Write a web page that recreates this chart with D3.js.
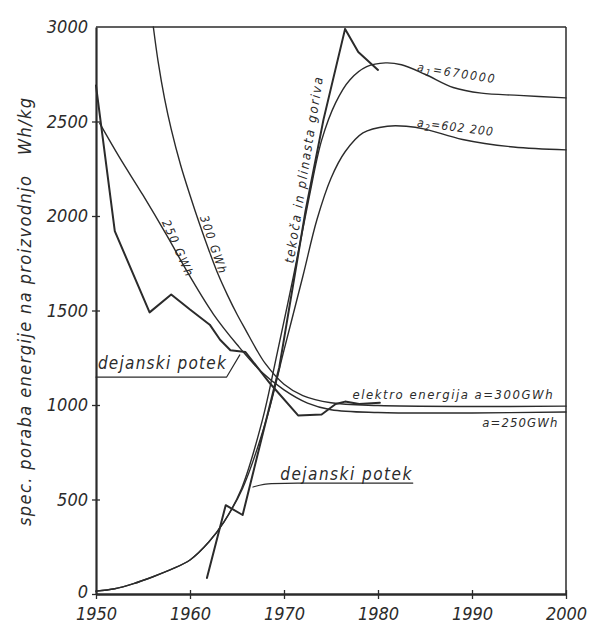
<!DOCTYPE html>
<meta charset="utf-8">

<body style="margin:0;background:#fff">
  <style>
    svg text {
      font-family: "DejaVu Sans Condensed", "DejaVu Sans", sans-serif;
      font-stretch: condensed;
      font-style: italic;
      fill: #2b2b2b;
    }
  </style>
  <div id="chart"></div>
  <script src="https://cdn.jsdelivr.net/npm/d3@7"></script>
  <script>
    // tick labels
    var xTicks = [1950, 1960, 1970, 1980, 1990, 2000];
    var yTicks = [0, 500, 1000, 1500, 2000, 2500, 3000];

    // electricity, projected curves [year, Wh/kg]
    var elec300 = [[1956.1, 3000], [1956.6, 2820], [1957.3, 2620], [1958, 2460], [1959, 2270],
      [1960, 2110], [1961, 1960], [1962, 1820], [1963, 1690], [1964, 1580], [1965, 1480],
      [1966, 1390], [1967, 1300], [1968, 1220], [1970, 1110], [1972, 1050], [1975, 1012],
      [1980, 997], [1990, 992], [2000, 994]];
    var elec250 = [[1950.4, 2490], [1952.5, 2310], [1955, 2110], [1957.5, 1900], [1960, 1680],
      [1962.5, 1480], [1965, 1320], [1967.5, 1180], [1970, 1080], [1972.5, 1010], [1975, 975],
      [1980, 960], [1990, 958], [2000, 963]];
    // electricity, actual course
    var elecActual = [[1950, 2690], [1952, 1920], [1955.7, 1490], [1958, 1585], [1960, 1505],
      [1962.1, 1425], [1963.2, 1345], [1964.3, 1290], [1965.9, 1280], [1968.5, 1115],
      [1971.5, 945], [1974, 950], [1975.5, 1005], [1976.5, 1018], [1978, 1005], [1980.2, 1012]];

    // liquid and gaseous fuels, projected curves
    var fuelA1 = [[1950, 15], [1952, 28], [1954, 55], [1956, 90], [1958, 130], [1960, 180],
      [1962, 275], [1963.6, 380], [1965.5, 560], [1967.7, 920], [1969.3, 1280], [1971, 1680],
      [1972.6, 2080], [1974, 2400], [1975.5, 2600], [1977, 2720], [1978.8, 2790],
      [1980.8, 2810], [1982.5, 2800], [1985, 2750], [1988, 2680], [1991, 2650], [1995, 2638],
      [2000, 2625]];
    var fuelA2 = [[1950, 15], [1952, 28], [1954, 55], [1956, 90], [1958, 130], [1960, 180],
      [1962, 275], [1963.6, 380], [1965.6, 560], [1968.1, 920], [1970, 1290], [1972, 1680],
      [1973.5, 1980], [1975, 2200], [1976.5, 2340], [1978.4, 2440], [1981, 2475],
      [1983, 2475], [1985, 2460], [1989, 2405], [1994.4, 2365], [2000, 2350]];
    // fuels, actual course
    var fuelActual = [[1961.8, 85], [1963.8, 470], [1965.6, 418], [1969.5, 1200], [1972.3, 2030],
      [1974.2, 2510], [1976.5, 2990], [1977.9, 2868], [1980, 2773]];

    // leader lines of the "dejanski potek" notes
    var leaderTop = [[1950, 1148], [1963.9, 1148], [1965.3, 1265]];
    var leaderLow = [[1966.7, 566], [1967.8, 582], [1969.3, 587], [1983.7, 587]];

    var margin = {top: 27, right: 23, bottom: 30, left: 96},
      width = 589 - margin.left - margin.right,
      height = 624 - margin.top - margin.bottom;

    var x = d3.scaleLinear().domain([1950, 2000]).range([0, width]);
    var y = d3.scaleLinear().domain([0, 3000]).range([height, 0]);

    var svg = d3.select("#chart").append("svg")
      .attr("width", width + margin.left + margin.right)
      .attr("height", height + margin.top + margin.bottom);

    var g = svg.append("g")
      .attr("transform", "translate(" + margin.left + "," + margin.top + ")");

    var ink = "#2b2b2b";

    // frame: top and right are thin, the two axes heavier
    g.append("line").attr("x1", 0).attr("x2", width).attr("y1", 0).attr("y2", 0)
      .attr("stroke", ink).attr("stroke-width", 1.5);
    g.append("line").attr("x1", width).attr("x2", width).attr("y1", 0).attr("y2", height)
      .attr("stroke", ink).attr("stroke-width", 1.5);

    var xAxis = g.append("g")
      .attr("transform", "translate(0," + height + ")")
      .call(d3.axisBottom(x).tickValues(xTicks).tickFormat(d3.format("d"))
        .tickSizeInner(5).tickSizeOuter(0).tickPadding(8));
    xAxis.select(".domain").attr("stroke", ink).attr("stroke-width", 2.6);
    xAxis.selectAll(".tick line").attr("y1", -4).attr("stroke", ink).attr("stroke-width", 1.3);
    xAxis.selectAll(".tick text").attr("font-size", 18).attr("font-family", null).attr("fill", ink);

    var yAxis = g.append("g")
      .call(d3.axisLeft(y).tickValues(yTicks).tickFormat(d3.format("d"))
        .tickSizeInner(4).tickSizeOuter(0).tickPadding(4));
    yAxis.select(".domain").attr("stroke", ink).attr("stroke-width", 2.2);
    yAxis.selectAll(".tick line").attr("x1", 4).attr("stroke", ink).attr("stroke-width", 1.3);
    yAxis.selectAll(".tick text").attr("font-size", 18).attr("font-family", null).attr("fill", ink);
    yAxis.selectAll(".tick").filter(function(d) { return d === 3000; }).select("line").remove();
    // the zero sits a little high so it clears 1950
    yAxis.selectAll(".tick").filter(function(d) { return d === 0; }).select("text").attr("dy", "0.2em");

    // y axis title
    svg.append("text")
      .attr("transform", "translate(31,312) rotate(-90)")
      .attr("text-anchor", "middle")
      .attr("font-size", 18)
      .attr("textLength", 428)
      .attr("lengthAdjust", "spacing")
      .text("spec. poraba energije na proizvodnjo\u00a0\u00a0 Wh/kg");

    var smooth = d3.line()
      .x(function(d) { return x(d[0]); })
      .y(function(d) { return y(d[1]); })
      .curve(d3.curveCatmullRom.alpha(0.5));
    var straight = d3.line()
      .x(function(d) { return x(d[0]); })
      .y(function(d) { return y(d[1]); });
    var rounded = d3.line()
      .x(function(d) { return x(d[0]); })
      .y(function(d) { return y(d[1]); })
      .curve(d3.curveBasis);

    function draw(data, gen, w) {
      g.append("path").datum(data)
        .attr("d", gen)
        .attr("fill", "none")
        .attr("stroke", ink)
        .attr("stroke-width", w)
        .attr("stroke-linejoin", "round")
        .attr("stroke-linecap", "round");
    }

    draw(elec300, smooth, 1.4);
    draw(elec250, smooth, 1.4);
    draw(fuelA1, smooth, 1.4);
    draw(fuelA2, smooth, 1.4);
    draw(elecActual, straight, 2);
    draw(fuelActual, straight, 2);
    draw(leaderTop, straight, 1.2);
    draw(leaderLow, rounded, 1.2);

    // notes
    function note(px, py, angle, size, len) {
      return g.append("text")
        .attr("transform", "translate(" + x(px) + "," + y(py) + ") rotate(" + angle + ")")
        .attr("text-anchor", "middle")
        .attr("dy", "0.35em")
        .attr("font-size", size)
        .attr("textLength", len)
        .attr("lengthAdjust", "spacing");
    }

    note(1958.7, 1831, 66, 12, 60).text("250 GWh");
    note(1962.5, 1850, 71, 12, 60).text("300 GWh");
    note(1972.1, 2243, -81, 13, 188).text("tekoča in plinasta goriva");

    var a1 = note(1988.3, 2757, 9, 12, 78);
    a1.append("tspan").text("a");
    a1.append("tspan").attr("font-size", 9).attr("dy", 3).text("1");
    a1.append("tspan").attr("dy", -3).text("=670000");

    var a2 = note(1988.2, 2471, 7, 12, 76);
    a2.append("tspan").text("a");
    a2.append("tspan").attr("font-size", 9).attr("dy", 3).text("2");
    a2.append("tspan").attr("dy", -3).text("=602 200");

    g.append("text")
      .attr("x", x(1977.3)).attr("y", y(1032))
      .attr("font-size", 13)
      .attr("textLength", 200).attr("lengthAdjust", "spacing")
      .text("elektro energija  a=300GWh");
    g.append("text")
      .attr("x", x(1991.1)).attr("y", y(884))
      .attr("font-size", 13)
      .attr("textLength", 75).attr("lengthAdjust", "spacing")
      .text("a=250GWh");

    g.append("text")
      .attr("x", x(1950.2)).attr("y", y(1190))
      .attr("font-size", 17)
      .attr("textLength", 128).attr("lengthAdjust", "spacing")
      .text("dejanski potek");
    g.append("text")
      .attr("x", x(1969.6)).attr("y", y(603))
      .attr("font-size", 17)
      .attr("textLength", 131).attr("lengthAdjust", "spacing")
      .text("dejanski potek");
  </script>
</body>
